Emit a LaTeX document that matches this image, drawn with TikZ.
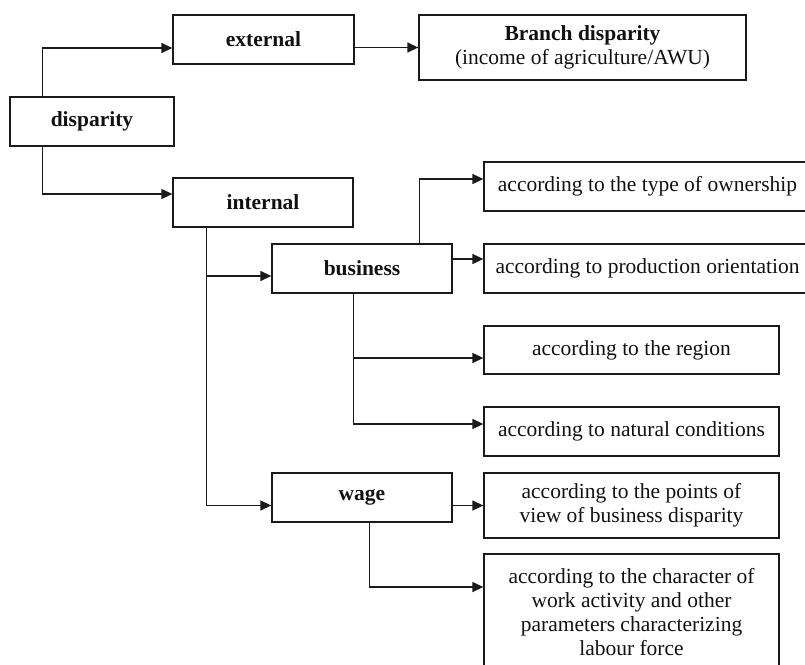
\documentclass[tikz,border=0pt]{standalone}
\usepackage{fontspec}
\setmainfont{Liberation Serif}
\usetikzlibrary{arrows.meta}
\definecolor{DisparityLine}{HTML}{1A1A1A}
\definecolor{DisparityText}{HTML}{111111}

\begin{document}
\begin{tikzpicture}[x=1pt,y=-1pt,
    box/.style={draw=DisparityLine,line width=1.3pt,inner sep=0pt,align=center,
      text=DisparityText,font=\fontsize{21.5}{24}\selectfont},
    link/.style={draw=DisparityLine,line width=1.3pt,-{Triangle[length=11pt,width=10pt]}}]
  \useasboundingbox (0,0) rectangle (805,664);
  % left column
  \node[box,minimum width=164pt,minimum height=49pt] (disparity) at (92,121.5) {\textbf{disparity}};
  \node[box,minimum width=181pt,minimum height=49pt] (external) at (263.5,39.5) {\textbf{external}};
  \node[box,minimum width=180pt,minimum height=49pt] (internal) at (263,202.5) {\textbf{internal}};
  \node[box,minimum width=327pt,minimum height=65pt] (branch) at (582.5,47.5)
    {\textbf{Branch disparity}\\(income of agriculture/AWU)};
  % middle column
  \node[box,minimum width=180pt,minimum height=49pt] (business) at (362,268.5) {\textbf{business}};
  \node[box,minimum width=180pt,minimum height=49pt] (wage) at (362,497.5) {\textbf{wage}};
  % right column
  \node[box,minimum width=327pt,minimum height=49pt] (ownership) at (647.5,186.5) {according to the type of ownership};
  \node[box,minimum width=327pt,minimum height=49pt] (production) at (647.5,268.5) {according to production orientation};
  \node[box,minimum width=295pt,minimum height=48pt] (region) at (631.5,350) {according to the region};
  \node[box,minimum width=295pt,minimum height=49pt] (natural) at (631.5,431.5) {according to natural conditions};
  \node[box,minimum width=295pt,minimum height=65pt] (viewpoints) at (631.5,505.5)
    {according to the points of\\view of business disparity};
  \node[box,minimum width=295pt,minimum height=116pt] (character) at (631.5,612)
    {according to the character of\\work activity and other\\parameters characterizing\\labour force};
  % connectors
  \draw[link] ([xshift=33pt]disparity.north west) |- ([yshift=-8.5pt]external.west);
  \draw[link] ([xshift=33pt]disparity.south west) |- ([yshift=8.5pt]internal.west);
  \draw[link] (branch.west -| external.east) -- (branch.west);
  \draw[link] ([xshift=34pt]internal.south west) |- ([yshift=-7.5pt]business.west);
  \draw[link] ([xshift=34pt]internal.south west) |- ([yshift=-8pt]wage.west);
  \draw[link] ([xshift=-33pt]business.north east) |- ([yshift=7.5pt]ownership.west);
  \draw[link] ([yshift=9.5pt]business.east) -- ([yshift=9.5pt]business.east -| production.west);
  \draw[link] ([xshift=82pt]business.south west) |- ([yshift=-8pt]region.west);
  \draw[link] ([xshift=82pt]business.south west) |- ([yshift=7.5pt]natural.west);
  \draw[link] (viewpoints.west -| wage.east) -- (viewpoints.west);
  \draw[link] ([xshift=98pt]wage.south west) |- ([yshift=25pt]character.west);
\end{tikzpicture}
\end{document}
